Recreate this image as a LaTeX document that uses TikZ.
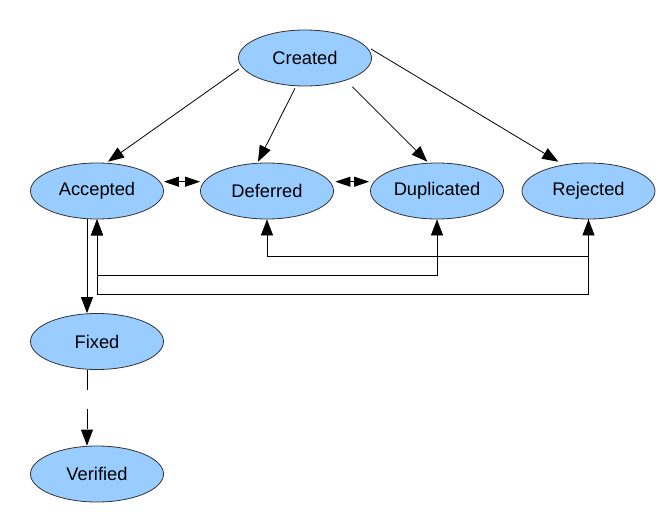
\documentclass[tikz,border=0pt]{standalone}
\usepackage{fontspec}
\setmainfont{Liberation Sans}
\usetikzlibrary{shapes.geometric,arrows.meta}
\definecolor{statefill}{HTML}{99CCFF}
\definecolor{stateline}{HTML}{333333}
\tikzset{
  state/.style={ellipse, draw=stateline, line width=0.8pt, fill=statefill,
    minimum width=133pt, minimum height=56pt, inner sep=0pt,
    font=\fontsize{18.3}{22}\selectfont},
  conn/.style={line width=0.8pt, draw=black},
  tip/.style={-{Triangle[length=16pt,width=12pt]}},
  bothtip/.style={{Triangle[length=16pt,width=12pt]}-{Triangle[length=16pt,width=12pt]}},
  smallboth/.style={{Triangle[length=15pt,width=10pt]}-{Triangle[length=15pt,width=10pt]}},
  longdash/.style={dash pattern=on 20pt off 19pt}
}
\begin{document}
\begin{tikzpicture}[x=1pt,y=-1pt]
\useasboundingbox (0,0) rectangle (670,527);
\node[state] (created)    at (305,58)  {Created};
\node[state] (accepted)   at (97,191)  {Accepted};
\node[state] (deferred)   at (267,191) {Deferred};
\node[state] (duplicated) at (437,191) {Duplicated};
\node[state] (rejected)   at (588.5,191) {Rejected};
\node[state] (fixed)      at (97,341.5) {Fixed};
\node[state] (verified)   at (97,474)  {Verified};

\draw[conn,tip] ([shift={(-66,11)}]created.center) -- ([shift={(11,-29.3)}]accepted.center);
\draw[conn,tip] ([shift={(-10,30.3)}]created.center) -- ([shift={(-9,-29.3)}]deferred.center);
\draw[conn,tip] ([shift={(47.3,28.7)}]created.center) -- ([shift={(-9.7,-29.3)}]duplicated.center);
\draw[conn,tip] ([shift={(66,-9)}]created.center) -- ([shift={(-30.2,-29.3)}]rejected.center);

\draw[conn,smallboth] ([shift={(0,-9.3)}]accepted.east) -- ([shift={(0,-9.3)}]deferred.west);
\draw[conn,smallboth] ([shift={(1.5,-9.3)}]deferred.east) -- ([shift={(-1,-9.3)}]duplicated.west);

\draw[conn,bothtip] (deferred.south) -- ++(0,37) -| (rejected.south);
\draw[conn,bothtip] (duplicated.south) -- ++(0,56) -| (accepted.south);
\draw[conn,tip] (rejected.south) -- ++(0,75) -| (accepted.south);

\draw[conn,tip] ([xshift=-10pt]accepted.south) -- ([xshift=-10pt]fixed.north);
\draw[conn,tip,longdash] ([xshift=-10pt]fixed.south) -- ([xshift=-10pt]verified.north);
\end{tikzpicture}
\end{document}
